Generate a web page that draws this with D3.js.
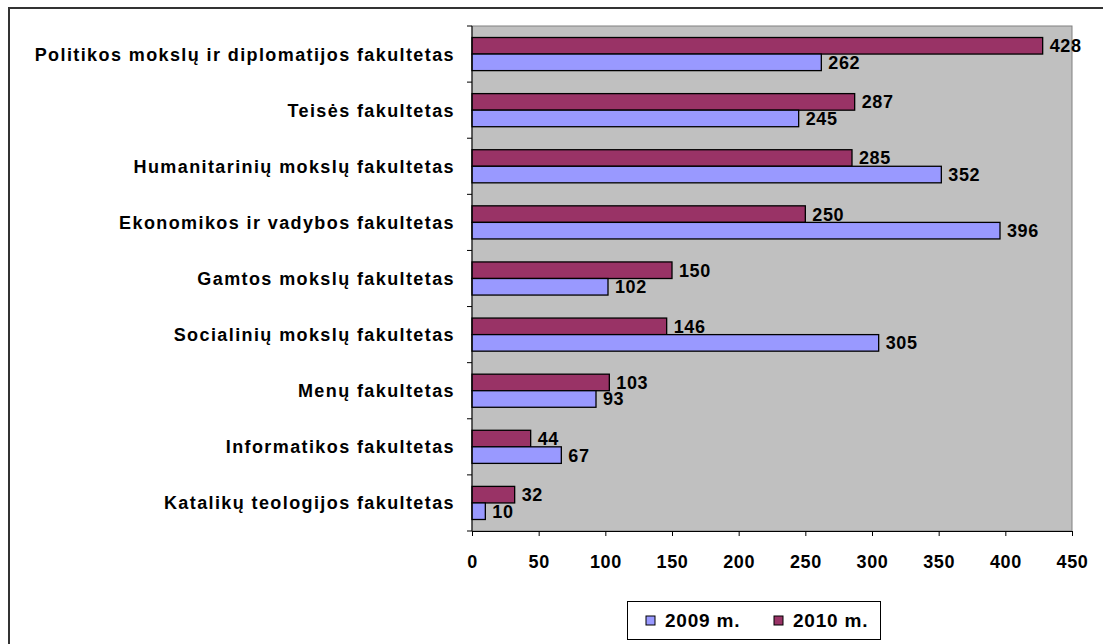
<!DOCTYPE html>
<html>
<head>
<meta charset="utf-8">
<script src="https://cdn.jsdelivr.net/npm/d3@7"></script>
<style>
    body { margin: 0; background: #fff; }
    svg text { font-family: "Liberation Sans", Arial, sans-serif; font-weight: bold; fill: #000; }
</style>
</head>
<body>
<svg id="chart" width="1103" height="644"></svg>
<script>
var categories = [
    "Politikos mokslų ir diplomatijos fakultetas",
    "Teisės fakultetas",
    "Humanitarinių mokslų fakultetas",
    "Ekonomikos ir vadybos fakultetas",
    "Gamtos mokslų fakultetas",
    "Socialinių mokslų fakultetas",
    "Menų fakultetas",
    "Informatikos fakultetas",
    "Katalikų teologijos fakultetas"
];
var values2009 = [262, 245, 352, 396, 102, 305, 93, 67, 10];
var values2010 = [428, 287, 285, 250, 150, 146, 103, 44, 32];
var seriesNames = ["2010 m.", "2009 m."];
var xTicks = [0, 50, 100, 150, 200, 250, 300, 350, 400, 450];

var colors = { "2010 m.": "#993366", "2009 m.": "#9999ff" };

var svg = d3.select("#chart");

// outer frame (cut off at right/bottom like the original)
svg.append("rect")
    .attr("x", 9).attr("y", 8)
    .attr("width", 1200).attr("height", 700)
    .attr("fill", "none")
    .attr("stroke", "#333")
    .attr("stroke-width", 2);

var plotL = 472, plotR = 1072, plotT = 26, plotB = 531;

var x = d3.scaleLinear().domain([0, 450]).range([plotL, plotR]);
var y = d3.scaleBand().domain(categories).range([plotT, plotB])
    .paddingInner(0.41).paddingOuter(0.205);
var ySub = d3.scaleBand().domain(seriesNames).range([0, y.bandwidth()]);
var yStep = d3.scaleBand().domain(categories).range([plotT, plotB]);

// plot area
svg.append("rect")
    .attr("x", plotL).attr("y", plotT)
    .attr("width", plotR - plotL).attr("height", plotB - plotT)
    .attr("fill", "#c0c0c0")
    .attr("stroke", "#808080")
    .attr("stroke-width", 1);

var rows = categories.map(function(c, i) {
    return { cat: c, vals: [
        { name: "2010 m.", v: values2010[i] },
        { name: "2009 m.", v: values2009[i] }
    ] };
});

var g = svg.append("g").selectAll("g")
    .data(rows)
    .enter().append("g")
    .attr("transform", function(d) { return "translate(0," + y(d.cat) + ")"; });

g.selectAll("rect")
    .data(function(d) { return d.vals; })
    .enter().append("rect")
    .attr("x", x(0))
    .attr("y", function(d) { return ySub(d.name); })
    .attr("width", function(d) { return x(d.v) - x(0); })
    .attr("height", ySub.bandwidth())
    .attr("fill", function(d) { return colors[d.name]; })
    .attr("stroke", "#000")
    .attr("stroke-width", 1.3);

g.selectAll("text")
    .data(function(d) { return d.vals; })
    .enter().append("text")
    .attr("x", function(d) { return x(d.v) + 7; })
    .attr("y", function(d) { return ySub(d.name) + ySub.bandwidth() / 2; })
    .attr("dy", "0.36em")
    .style("font-size", "18px")
    .style("letter-spacing", "0.6px")
    .text(function(d) { return d.v; });

// category axis: ticks at band boundaries
var yAxisG = svg.append("g");
yAxisG.append("line")
    .attr("x1", plotL).attr("x2", plotL)
    .attr("y1", plotT).attr("y2", plotB)
    .attr("stroke", "#000");
var bounds = categories.map(function(c) { return yStep(c); }).concat([plotB]);
yAxisG.selectAll("line.tick")
    .data(bounds)
    .enter().append("line")
    .attr("class", "tick")
    .attr("x1", plotL - 5).attr("x2", plotL)
    .attr("y1", function(d) { return d; }).attr("y2", function(d) { return d; })
    .attr("stroke", "#000");
yAxisG.selectAll("text")
    .data(categories)
    .enter().append("text")
    .attr("x", plotL - 17)
    .attr("y", function(d) { return yStep(d) + yStep.bandwidth() / 2; })
    .attr("dy", "0.36em")
    .attr("text-anchor", "end")
    .style("font-size", "18px")
    .style("letter-spacing", "1.4px")
    .text(function(d) { return d; });

// value axis
var xAxis = d3.axisBottom(x).tickValues(xTicks).tickSize(5).tickPadding(19);
var xAxisG = svg.append("g")
    .attr("transform", "translate(0," + plotB + ")")
    .call(xAxis);
xAxisG.select(".domain").attr("stroke", "#000");
xAxisG.selectAll("text")
    .attr("fill", "#000")
    .style("font-size", "18px")
    .style("letter-spacing", "0.6px")
    .style("font-family", "'Liberation Sans', Arial, sans-serif")
    .style("font-weight", "bold");

// legend
var legend = svg.append("g");
legend.append("rect")
    .attr("x", 627.5).attr("y", 601.5)
    .attr("width", 253).attr("height", 38)
    .attr("fill", "#fff")
    .attr("stroke", "#000");
var legendItems = [
    { name: "2009 m.", x: 646 },
    { name: "2010 m.", x: 774 }
];
var li = legend.selectAll("g.item")
    .data(legendItems)
    .enter().append("g")
    .attr("class", "item");
li.append("rect")
    .attr("x", function(d) { return d.x; })
    .attr("y", 616)
    .attr("width", 9).attr("height", 9)
    .attr("fill", function(d) { return colors[d.name]; })
    .attr("stroke", "#000");
li.append("text")
    .attr("x", function(d) { return d.x + 19; })
    .attr("y", 620.5)
    .attr("dy", "0.36em")
    .style("font-size", "19px")
    .style("letter-spacing", "0.8px")
    .text(function(d) { return d.name; });
</script>
</body>
</html>
